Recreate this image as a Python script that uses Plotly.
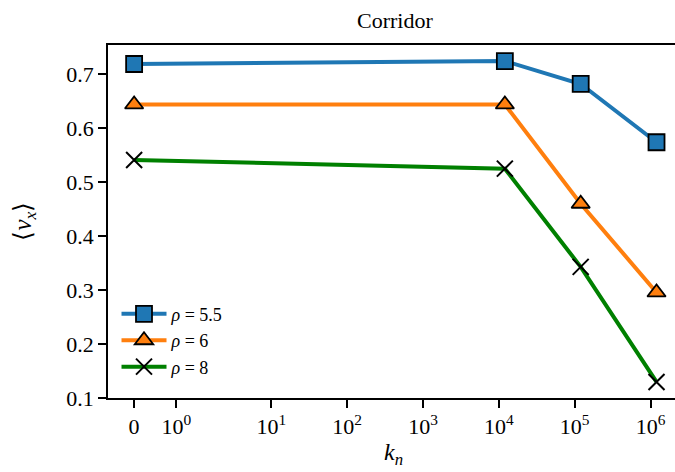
import numpy as np
import plotly.graph_objects as go

# Stiffness values k_n and mean velocity <v_x> for each density rho
k_n = [0, 1.2e4, 1.2e5, 1.2e6]
vx_rho_5_5 = [0.719, 0.7245, 0.682, 0.574]
vx_rho_6 = [0.644, 0.644, 0.460, 0.2955]
vx_rho_8 = [0.541, 0.525, 0.343, 0.1296]

series_names = ["<i>ρ</i> = 5.5", "<i>ρ</i> = 6", "<i>ρ</i> = 8"]
tick_values = [0, 1, 10, 100, 1e3, 1e4, 1e5, 1e6]
tick_labels = ["0", "10<sup>0</sup>", "10<sup>1</sup>", "10<sup>2</sup>",
               "10<sup>3</sup>", "10<sup>4</sup>", "10<sup>5</sup>", "10<sup>6</sup>"]
y_ticks = [0.1, 0.2, 0.3, 0.4, 0.5, 0.6, 0.7]

LINTHRESH = 2.0
LINSCALE = 1.0


def symlog(values, linthresh=LINTHRESH, linscale=LINSCALE, base=10.0):
    """Symmetric-log axis transform (linear near zero, logarithmic beyond)."""
    a = np.asarray(values, dtype=float)
    lin_adj = linscale / (1.0 - 1.0 / base)
    out = np.where(
        np.abs(a) <= linthresh,
        a * lin_adj / linthresh,
        np.sign(a) * (lin_adj + np.log(np.abs(a) / linthresh) / np.log(base)),
    )
    return out


x_pos = symlog(k_n)
FONT = "Liberation Serif"

fig = go.Figure()
styles = [
    dict(color="#1f77b4", symbol="square", mcolor="#1f77b4", lw=1.8),
    dict(color="#ff7f0e", symbol="triangle-up", mcolor="#ff7f0e", lw=1.8),
    dict(color="#008000", symbol="x-thin", mcolor="black", lw=2),
]
for name, vals, st in zip(series_names, [vx_rho_5_5, vx_rho_6, vx_rho_8], styles):
    fig.add_trace(go.Scatter(
        x=x_pos, y=vals, name=name, mode="lines+markers",
        line=dict(color=st["color"], width=4),
        marker=dict(symbol=st["symbol"], size=16, color=st["mcolor"],
                    line=dict(color="black", width=st["lw"])),
    ))

# axis limits with 5% padding, as an autoscaled symlog axis would have
x_span = x_pos.max() - x_pos.min()
x_lo = x_pos.min() - 0.05 * x_span
y_all = vx_rho_5_5 + vx_rho_6 + vx_rho_8
y_span = max(y_all) - min(y_all)
y_lo = min(y_all) - 0.05 * y_span
y_hi = max(y_all) + 0.05 * y_span

fig.update_layout(
    width=675, height=472,
    margin=dict(l=108, r=0, t=45, b=74),
    plot_bgcolor="white", paper_bgcolor="white",
    font=dict(family=FONT, size=22, color="black"),
    showlegend=True,
    legend=dict(x=0.015, y=0.035, xanchor="left", yanchor="bottom",
                bgcolor="rgba(255,255,255,0.8)", font=dict(size=18),
                tracegroupgap=0, itemwidth=45),
    annotations=[
        dict(text="Corridor", xref="paper", yref="paper", x=0.507, y=1.0,
             xanchor="center", yanchor="bottom", yshift=10, showarrow=False,
             font=dict(size=22)),
        dict(text="<i>k<sub>n</sub></i>", xref="paper", yref="paper",
             x=0.503, y=-0.16, xanchor="center", yanchor="middle",
             showarrow=False, font=dict(size=24)),
        dict(text="⟨<i>v<sub>x</sub></i>⟩", xref="paper", yref="paper",
             x=-0.148, y=0.5, xanchor="center", yanchor="middle",
             textangle=-90, showarrow=False, font=dict(size=25)),
    ],
)
fig.update_xaxes(
    range=[x_lo, 7.133], tickmode="array",
    tickvals=symlog(tick_values), ticktext=tick_labels,
    showline=True, linecolor="black", linewidth=1.6, mirror=True,
    ticks="outside", ticklen=8, tickwidth=1.6, tickcolor="black",
    showgrid=False, zeroline=False,
)
fig.update_yaxes(
    range=[y_lo, y_hi], tickmode="array", tickvals=y_ticks,
    ticktext=[f"{v:.1f}" for v in y_ticks],
    showline=True, linecolor="black", linewidth=1.6, mirror=False,
    ticks="outside", ticklen=8, tickwidth=1.6, tickcolor="black",
    showgrid=False, zeroline=False,
)

fig.write_html("out.html")
